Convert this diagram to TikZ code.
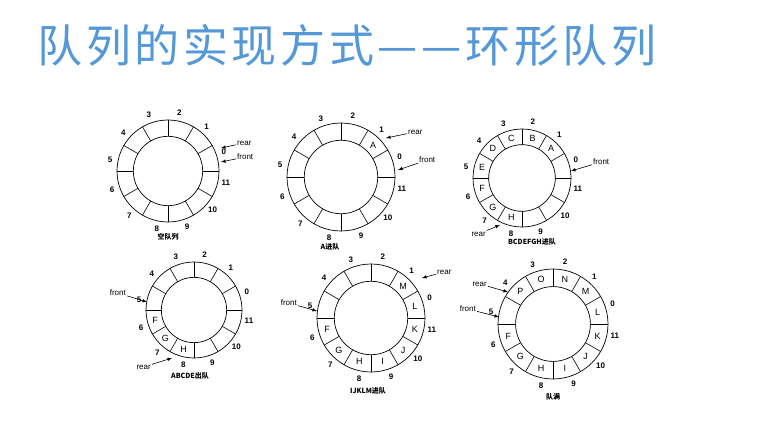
\documentclass[tikz,border=0pt]{standalone}
\usepackage{fontspec}
\setmainfont{Liberation Sans}
\newfontfamily\cjk{Noto Sans CJK SC}
\newfontfamily\cjkt{Noto Sans CJK SC}[LetterSpace=8]
\begin{document}
\begin{tikzpicture}[x=1pt,y=1pt,
  idx/.style={font=\fontsize{8}{8}\selectfont\bfseries},
  cell/.style={font=\fontsize{9}{9}\selectfont},
  captext/.style={font=\cjk\fontsize{7}{7}\selectfont\bfseries},
  ptr/.style={font=\fontsize{8}{8}\selectfont,inner sep=1pt},
  arr/.style={-latex,line width=0.6pt}]
\useasboundingbox (0,0) rectangle (761,429);
\newcommand\qring[5]{%
 \begin{scope}[shift={(#2,#3)}]
  \node[circle,draw,line width=0.7pt,minimum size={2*#4},inner sep=0] (#1) at (0,0) {};
  \node[circle,draw,line width=0.7pt,minimum size={1.36*#4},inner sep=0] (#1i) at (0,0) {};
  \foreach \a in {0,30,...,330} \draw[line width=0.6pt] (\a:{0.68*#4}) -- (\a:#4);
  \foreach \k in {0,...,11} \node[idx] at ({19+30*\k}:{#4+8}) {\k};
  \foreach \k/\l in {#5} \node[cell] at ({15+30*\k}:{0.84*#4}) {\l};
 \end{scope}}
\node[anchor=west,text=cyan!60!blue!70!white,font=\cjkt\fontsize{45}{45}\selectfont] (title) at (34,384) {队列的实现方式—\hspace{4pt}—环形队列};
% ring 1
\qring{ra}{168}{258}{51}{}
\node[captext] (ca) at (168,192) {空队列};
\node[ptr,anchor=west] (ra1) at (236,286) {rear};
\node[ptr,anchor=west] (fa1) at (236,272) {front};
\coordinate (ra1t) at (221,281); \coordinate (fa1t) at (221,267);
\draw[arr] (ra1) -- (ra1t); \draw[arr] (fa1) -- (fa1t);
% ring 2
\qring{rb}{341}{252}{54}{1/A}
\node[captext] (cb) at (330,182) {A进队};
\node[ptr,anchor=west] (rb1) at (407,297) {rear};
\node[ptr,anchor=west] (fb1) at (418,269) {front};
\coordinate (rb1t) at (386,291); \coordinate (fb1t) at (398,259);
\draw[arr] (rb1) -- (rb1t); \draw[arr] (fb1) -- (fb1t);
% ring 3
\qring{rc}{522}{251}{49}{1/A,2/B,3/C,4/D,5/E,6/F,7/G,8/H}
\node[captext] (cc) at (532,187) {BCDEFGH进队};
\node[ptr,anchor=west] (fc1) at (592,267) {front};
\node[ptr,anchor=east] (rc1) at (487,195) {rear};
\coordinate (fc1t) at (571,258); \coordinate (rc1t) at (500,204);
\draw[arr] (fc1) -- (fc1t); \draw[arr] (rc1) -- (rc1t);
% ring 4
\qring{rd}{194}{119}{48}{6/F,7/G,8/H}
\node[captext] (cd) at (190,53) {ABCDE出队};
\node[ptr,anchor=east] (fd1) at (127,136) {front};
\node[ptr,anchor=east] (rd1) at (152,62) {rear};
\coordinate (fd1t) at (147,127); \coordinate (rd1t) at (172,71);
\draw[arr] (fd1) -- (fd1t); \draw[arr] (rd1) -- (rd1t);
% ring 5
\qring{re}{371}{111}{54}{6/F,7/G,8/H,9/I,10/J,11/K,0/L,1/M}
\node[captext] (ce) at (368,38) {IJKLM进队};
\node[ptr,anchor=west] (re1) at (436,157) {rear};
\node[ptr,anchor=east] (fe1) at (298,126) {front};
\coordinate (re1t) at (422,151); \coordinate (fe1t) at (317,118);
\draw[arr] (re1) -- (re1t); \draw[arr] (fe1) -- (fe1t);
% ring 6
\qring{rf}{553}{105}{55}{6/F,7/G,8/H,9/I,10/J,11/K,0/L,1/M,2/N,3/O,4/P}
\node[captext] (cf) at (553,32) {队满};
\node[ptr,anchor=east] (rf1) at (488,145) {rear};
\node[ptr,anchor=east] (ff1) at (477,120) {front};
\coordinate (rf1t) at (508,137); \coordinate (ff1t) at (499,112);
\draw[arr] (rf1) -- (rf1t); \draw[arr] (ff1) -- (ff1t);
\end{tikzpicture}
\end{document}
